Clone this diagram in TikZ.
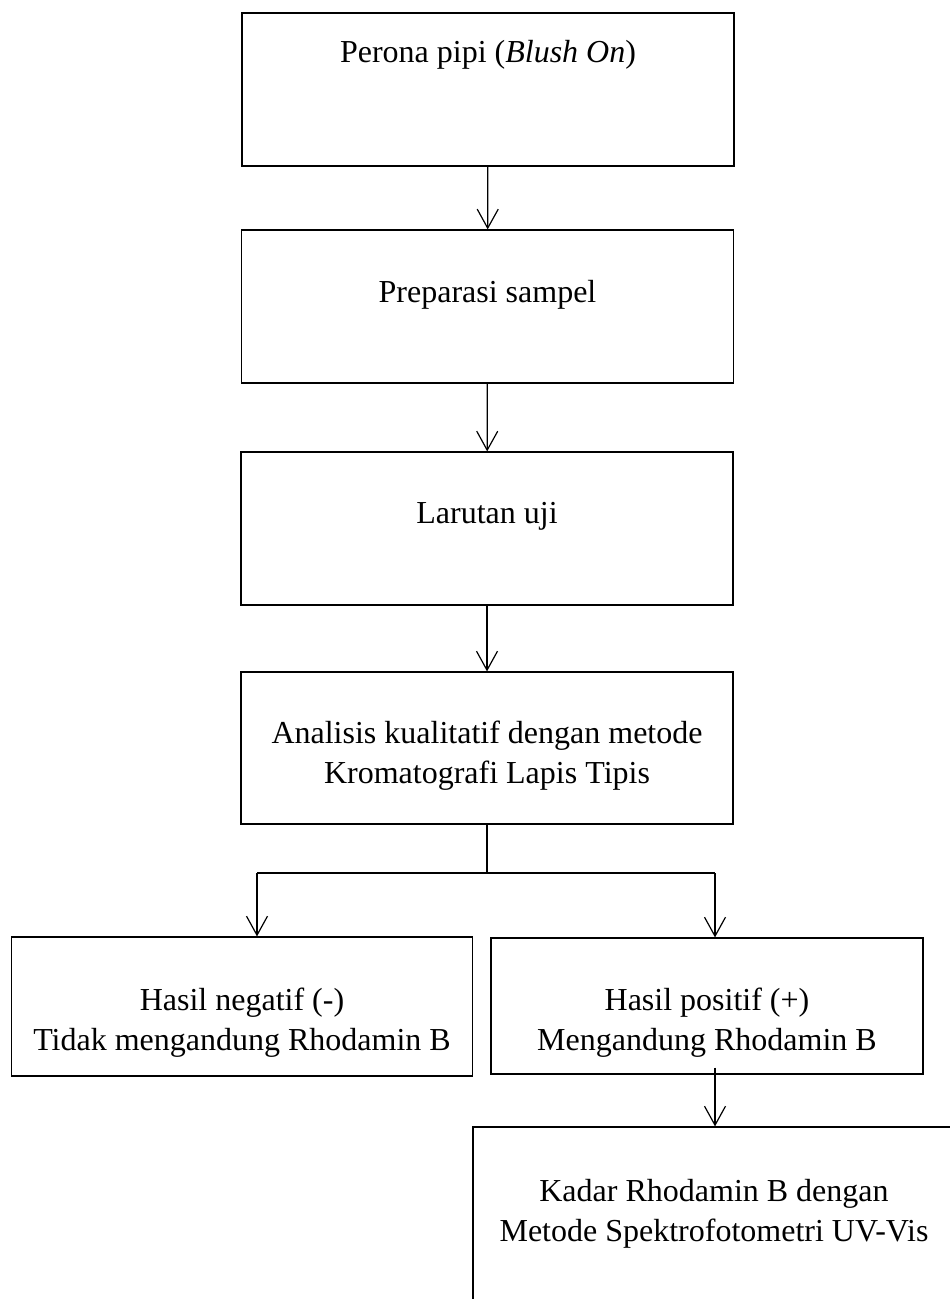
\documentclass[tikz,border=0pt]{standalone}
\usepackage{fontspec}
\setmainfont{Liberation Serif}
\usetikzlibrary{arrows.meta}
\tikzset{
  stage/.style = {draw, line width=1.2pt, minimum width=492pt,
                  minimum height=153pt, inner sep=0pt},
  lbl/.style   = {align=center, inner sep=0pt},
  flow/.style  = {-{Straight Barb[length=19pt, width=21pt]}, line width=1.2pt},
  link/.style  = {line width=1.2pt}
}
\begin{document}
\begin{tikzpicture}[x=1pt, y=-1pt, font=\fontsize{32}{40}\selectfont]
\useasboundingbox (0,0) rectangle (950,1299);
\clip (0,0) rectangle (950,1299);
% Main column
\node[stage, label={[lbl, yshift=34.5pt]center:Perona pipi (\textit{Blush On})}]
  (perona) at (488,89.5) {};
\node[stage, label={[lbl, yshift=12pt]center:Preparasi sampel}]
  (preparasi) at (487.5,306.5) {};
\node[stage, label={[lbl, yshift=12pt]center:Larutan uji}]
  (larutan) at (487,528.5) {};
\node[stage, minimum height=152pt,
  label={[lbl, yshift=-7.5pt]center:Analisis kualitatif dengan metode\\Kromatografi Lapis Tipis}]
  (analisis) at (487,748) {};
% Results
\node[stage, minimum width=461.5pt, minimum height=139pt,
  label={[lbl, yshift=-16pt]center:Hasil negatif (-)\\Tidak mengandung Rhodamin B}]
  (negatif) at (242,1006.5) {};
\node[stage, minimum width=432pt, minimum height=136pt,
  label={[lbl, yshift=-16.5pt]center:Hasil positif (+)\\Mengandung Rhodamin B}]
  (positif) at (707,1006) {};
\node[stage, minimum width=482pt, minimum height=193pt,
  label={[lbl, yshift=9.5pt]center:Kadar Rhodamin B dengan\\Metode Spektrofotometri UV-Vis}]
  (kadar) at (714,1223.5) {};
% Connectors
\draw[flow] (perona) -- (preparasi);
\draw[flow] (preparasi) -- (larutan);
\draw[flow] (larutan) -- (analisis);
\coordinate (lsplit) at (257,873);
\coordinate (rsplit) at (715,873);
\draw[link] (analisis.south) -- (analisis.south |- lsplit);
\draw[link] (lsplit) -- (rsplit);
\draw[flow] (lsplit) -- (lsplit |- negatif.north);
\draw[flow] (rsplit) -- (rsplit |- positif.north);
\draw[flow] (positif.south -| rsplit) ++(0,-7) -- (rsplit |- kadar.north);
\end{tikzpicture}
\end{document}
